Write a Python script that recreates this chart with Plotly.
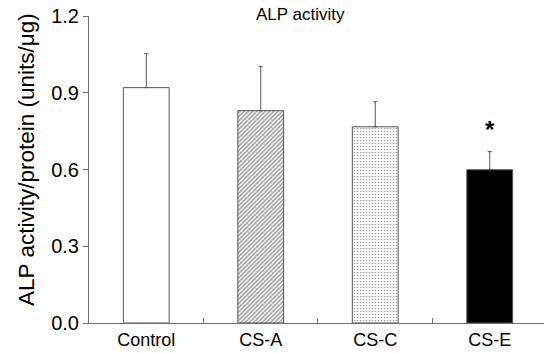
import plotly.graph_objects as go

categories = ["Control", "CS-A", "CS-C", "CS-E"]
values = [0.92, 0.83, 0.767, 0.599]
errors = [0.133, 0.172, 0.098, 0.071]
significant = [False, False, False, True]
y_ticks = [0.0, 0.3, 0.6, 0.9, 1.2]
y_tick_labels = ["0.0", "0.3", "0.6", "0.9", "1.2"]

fill_colors = ["white", "white", "white", "black"]
pattern_shapes = ["", "/", ".", ""]
pattern_fg = ["#555555", "#3a3a3a", "#8a8a8a", "black"]
pattern_size = [6, 3, 3, 6]
pattern_solid = [0.3, 0.55, 0.25, 0.3]

axis_color = "#6e6e6e"

fig = go.Figure()
fig.add_trace(go.Bar(
    x=categories, y=values, width=0.4,
    marker=dict(
        color=fill_colors,
        line=dict(color="#555555", width=1),
        pattern=dict(shape=pattern_shapes, fgcolor=pattern_fg, bgcolor=fill_colors,
                     size=pattern_size, solidity=pattern_solid),
    ),
    error_y=dict(type="data", array=errors, arrayminus=[0] * len(errors), symmetric=False,
                 color="#555555", thickness=1, width=2),
    showlegend=False,
))

for c, v, e, s in zip(categories, values, errors, significant):
    if s:
        fig.add_annotation(x=c, y=v + e, yshift=7, text="<b>*</b>", showarrow=False,
                           font=dict(size=24, color="black", family="Liberation Sans"),
                           yanchor="bottom")

fig.add_annotation(xref="paper", yref="paper", x=0.464, y=1.0, yshift=2,
                   text="ALP activity", showarrow=False,
                   font=dict(size=17, color="black", family="Liberation Sans"),
                   xanchor="center", yanchor="middle")

fig.add_annotation(xref="paper", yref="paper", x=0, xshift=-62, y=0.531,
                   text="ALP activity/protein (units/μg)", showarrow=False, textangle=-90,
                   font=dict(size=22.5, color="black", family="Liberation Sans"),
                   xanchor="center", yanchor="middle")

fig.update_layout(
    width=544, height=353,
    margin=dict(l=89, r=0, t=16, b=30),
    plot_bgcolor="white", paper_bgcolor="white",
    font=dict(family="Liberation Sans", color="black"),
)
fig.update_xaxes(
    range=[-0.5, 3.474], showline=True, linecolor=axis_color, linewidth=1,
    ticks="inside", tickson="boundaries", ticklen=5, tickcolor=axis_color,
    tickfont=dict(size=18), showgrid=False, zeroline=False, automargin=False,
)
fig.update_yaxes(
    range=[0, 1.2], tickvals=y_ticks, ticktext=y_tick_labels,
    showline=True, linecolor=axis_color, linewidth=1,
    ticks="outside", ticklen=5, tickcolor=axis_color, tickfont=dict(size=20),
    showgrid=False, zeroline=False, automargin=False,
)

fig.write_html("out.html", config={"displayModeBar": False},
               post_script="document.body.style.margin='0';document.body.style.overflow='hidden';")
